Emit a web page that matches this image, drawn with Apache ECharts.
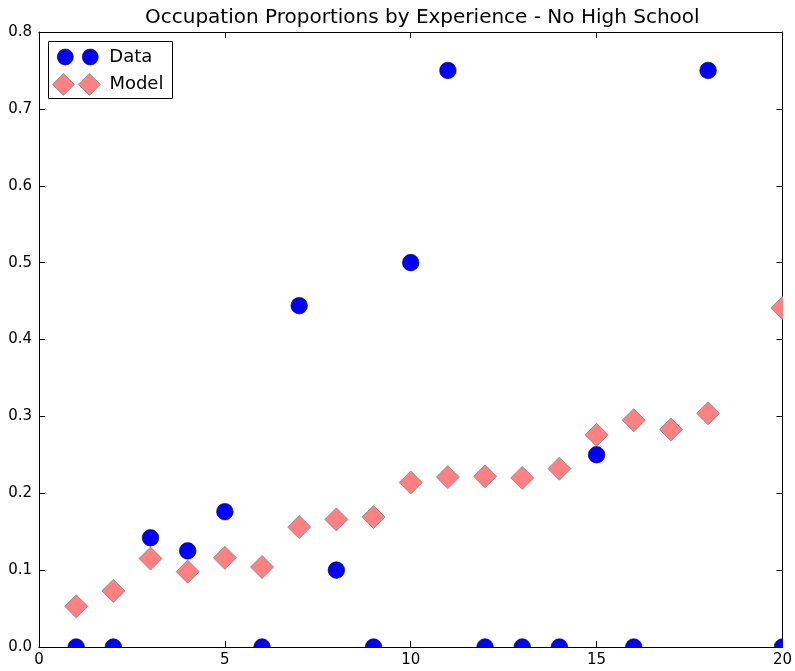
<!DOCTYPE html>
<html>
<head>
<meta charset="utf-8">
<title>Occupation Proportions by Experience - No High School</title>
<script src="https://cdn.jsdelivr.net/npm/echarts@6/dist/echarts.min.js"></script>
<style>
  html, body { margin: 0; padding: 0; background: #fff; }
  #chart { width: 795px; height: 671px; }
</style>
</head>
<body>
<div id="chart"></div>
<script>
// Years of experience (x) and observed / modelled occupation proportions (y).
// null = no observation for that year.
var experience = [1, 2, 3, 4, 5, 6, 7, 8, 9, 10, 11, 12, 13, 14, 15, 16, 17, 18, 19, 20];
var observed = [0, 0, 0.142, 0.125, 0.176, 0, 0.444, 0.1, 0, 0.5, 0.75, 0, 0, 0, 0.25, 0, null, 0.75, null, 0];
var modelled = [0.053, 0.073, 0.115, 0.098, 0.116, 0.104, 0.156, 0.166, 0.169, 0.214, 0.221, 0.222, 0.220, 0.232, 0.276, 0.295, 0.283, 0.304, null, 0.441];
var xTicks = [0, 5, 10, 15, 20];
var yTicks = [0, 0.1, 0.2, 0.3, 0.4, 0.5, 0.6, 0.7, 0.8];

function pairs(xs, ys) {
  var out = [];
  for (var i = 0; i < xs.length; i++) {
    if (ys[i] !== null) out.push([xs[i], ys[i]]);
  }
  return out;
}

var FONT = 'DejaVu Sans';
var xStep = xTicks[1] - xTicks[0];
var yStep = yTicks[1] - yTicks[0];

var DATA_FILL = '#0000ff', DATA_EDGE = '#000033';
var MODEL_FILL = '#ff8080', MODEL_EDGE = '#808080';
var CIRCLE_R = 8.3, DIAMOND_HALF = 11.5;

function frameAxis(base, extra) {
  var a = {
    type: 'value',
    axisLine: { show: true, onZero: false, lineStyle: { color: '#000', width: 1 } },
    axisTick: { show: true, inside: true, length: 6, lineStyle: { color: '#000', width: 1 } },
    splitLine: { show: false },
    axisLabel: { show: false }
  };
  for (var k in base) a[k] = base[k];
  for (var k2 in extra) a[k2] = extra[k2];
  return a;
}

var xBase = { min: xTicks[0], max: xTicks[xTicks.length - 1], interval: xStep };
var yBase = { min: yTicks[0], max: yTicks[yTicks.length - 1], interval: yStep };

// Markers are drawn as custom shapes so that the plot frame clips them cleanly.
function renderCircle(params, api) {
  var p = api.coord([api.value(0), api.value(1)]);
  return {
    type: 'circle',
    shape: { cx: p[0], cy: p[1], r: CIRCLE_R },
    style: { fill: DATA_FILL, stroke: DATA_EDGE, lineWidth: 0.6 }
  };
}
function renderDiamond(params, api) {
  var p = api.coord([api.value(0), api.value(1)]);
  var h = DIAMOND_HALF;
  return {
    type: 'polygon',
    shape: { points: [[p[0], p[1] - h], [p[0] + h, p[1]], [p[0], p[1] + h], [p[0] - h, p[1]]] },
    style: { fill: MODEL_FILL, stroke: MODEL_EDGE, lineWidth: 0.8 }
  };
}

// Two-marker legend glyphs
var twoCircles = 'path://M0,8A8,8 0 1,0 16,8A8,8 0 1,0 0,8Z M25,8A8,8 0 1,0 41,8A8,8 0 1,0 25,8Z';
var twoDiamonds = 'path://M11,0L22,11L11,22L0,11Z M37,0L48,11L37,22L26,11Z';

var chart = echarts.init(document.getElementById('chart'), null, { renderer: 'canvas' });
chart.setOption({
  animation: false,
  backgroundColor: '#fff',
  title: {
    text: 'Occupation Proportions by Experience - No High School',
    left: 145,
    top: 8,
    padding: 0,
    textStyle: { fontFamily: FONT, fontSize: 20, fontWeight: 'normal', color: '#000' }
  },
  grid: { left: 39, right: 12, top: 32, bottom: 24, containLabel: false },
  xAxis: [
    frameAxis(xBase, {
      position: 'bottom',
      axisLabel: { show: true, margin: 6, color: '#000', fontFamily: FONT, fontSize: 15 }
    }),
    frameAxis(xBase, { position: 'top' })
  ],
  yAxis: [
    frameAxis(yBase, {
      position: 'left',
      axisLabel: {
        show: true, margin: 7, color: '#000', fontFamily: FONT, fontSize: 15,
        formatter: function (v) { return v.toFixed(1); }
      }
    }),
    frameAxis(yBase, { position: 'right' })
  ],
  graphic: [{
    type: 'rect',
    z: 5,
    shape: { x: 48.5, y: 41.5, width: 124, height: 57 },
    style: { fill: '#fff', stroke: '#000', lineWidth: 1 }
  }],
  legend: [
    {
      data: ['Data'],
      left: 57, top: 48, padding: 0, z: 6,
      itemWidth: 41, itemHeight: 16,
      icon: twoCircles,
      itemStyle: { color: DATA_FILL, borderColor: DATA_EDGE, borderWidth: 0.6 },
      textStyle: { fontFamily: FONT, fontSize: 18, color: '#000', padding: [0, 0, 0, 6] }
    },
    {
      data: ['Model'],
      left: 52, top: 73, padding: 0, z: 6,
      itemWidth: 48, itemHeight: 22,
      icon: twoDiamonds,
      itemStyle: { color: MODEL_FILL, borderColor: MODEL_EDGE, borderWidth: 0.8 },
      textStyle: { fontFamily: FONT, fontSize: 18, color: '#000', padding: [0, 0, 0, 4] }
    }
  ],
  series: [
    {
      name: 'Model',
      type: 'custom',
      clip: true,
      renderItem: renderDiamond,
      encode: { x: 0, y: 1 },
      data: pairs(experience, modelled),
      itemStyle: { color: MODEL_FILL, borderColor: MODEL_EDGE },
      z: 2
    },
    {
      name: 'Data',
      type: 'custom',
      clip: true,
      renderItem: renderCircle,
      encode: { x: 0, y: 1 },
      data: pairs(experience, observed),
      itemStyle: { color: DATA_FILL, borderColor: DATA_EDGE },
      z: 3
    }
  ]
});
</script>
</body>
</html>
